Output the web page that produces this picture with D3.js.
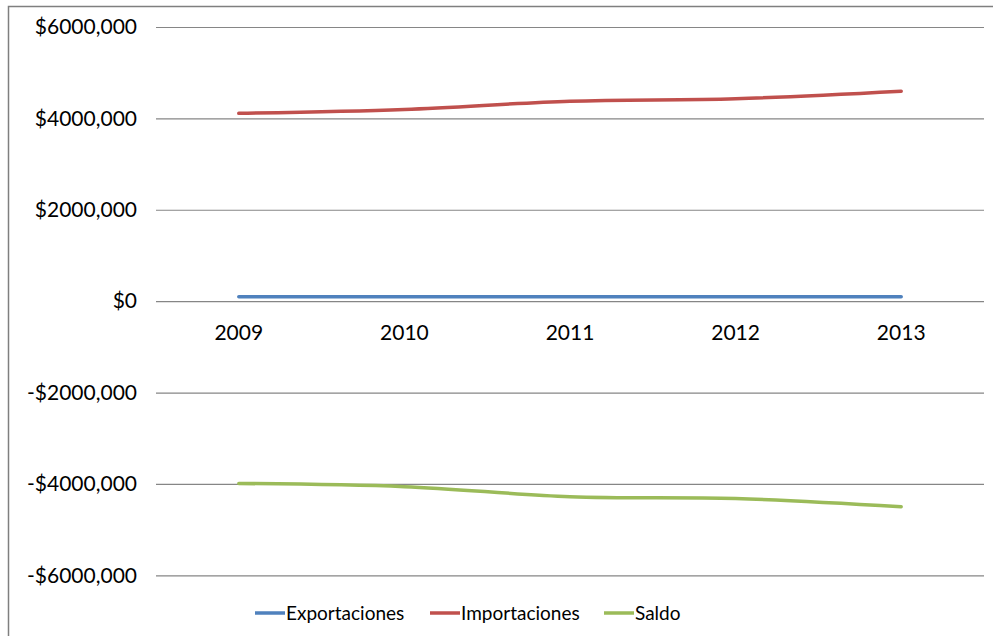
<!DOCTYPE html>
<html>
<head>
<meta charset="utf-8">
<script src="https://cdn.jsdelivr.net/npm/d3@7"></script>
<style>
  body { margin: 0; background: #fff; }
  svg { display: block; }
</style>
</head>
<body>
<svg width="993" height="636"></svg>
<script>
// data
var years = ["2009", "2010", "2011", "2012", "2013"];
var exportaciones = [95000, 95000, 95000, 95000, 95000];
var importaciones = [4110000, 4195000, 4375000, 4430000, 4595000];
var saldo = [-3990000, -4060000, -4280000, -4320000, -4500000];
var yTicks = [-6000000, -4000000, -2000000, 0, 2000000, 4000000, 6000000];

var series = [
    { name: "Exportaciones", values: exportaciones, color: "#4F81BD" },
    { name: "Importaciones", values: importaciones, color: "#C0504D" },
    { name: "Saldo", values: saldo, color: "#9BBB59" },
];

var svg = d3.select("svg"),
    plotLeft = 156, plotRight = 984, plotTop = 27, plotBottom = 575.3;

// chart area border (runs off the picture on the right and bottom)
svg.append("rect")
    .attr("x", 8.5).attr("y", 6.5)
    .attr("width", 1100).attr("height", 800)
    .attr("fill", "none")
    .attr("stroke", "#7f7f7f")
    .attr("stroke-width", 1.5);

var x = d3.scaleBand().domain(years).range([plotLeft, plotRight]);
var y = d3.scaleLinear().domain([-6000000, 6000000]).range([plotBottom, plotTop]);

function fmt(d) {
    if (d === 0) return "$0";
    return (d < 0 ? "-" : "") + "$" + (Math.abs(d) / 1000) + ",000";
}

// gridlines + y labels
var yAxis = d3.axisLeft(y)
    .tickValues(yTicks)
    .tickSize(-(plotRight - plotLeft))
    .tickPadding(19)
    .tickFormat(fmt);

var gy = svg.append("g")
    .attr("transform", "translate(" + plotLeft + ",0)")
    .call(yAxis);
gy.select(".domain").remove();
gy.selectAll(".tick line").attr("stroke", "#868686").attr("stroke-width", 1.2);
gy.selectAll(".tick text")
    .attr("fill", "#000")
    .style("font-family", "Lato")
    .style("font-size", "21px");

// category labels sit below the zero line
var xAxis = d3.axisBottom(x).tickSize(0).tickPadding(24);
var gx = svg.append("g")
    .attr("transform", "translate(0," + y(0) + ")")
    .call(xAxis);
gx.select(".domain").remove();
gx.selectAll(".tick text")
    .attr("fill", "#000")
    .style("font-family", "Lato")
    .style("font-size", "21px");

var line = d3.line()
    .x(function (d, i) { return x(years[i]) + x.bandwidth() / 2; })
    .y(function (d) { return y(d); })
    .curve(d3.curveCardinal.tension(0));

svg.selectAll(".series")
    .data(series)
    .enter().append("path")
    .attr("class", "series")
    .attr("d", function (s) { return line(s.values); })
    .attr("fill", "none")
    .attr("stroke", function (s) { return s.color; })
    .attr("stroke-width", 3.5)
    .attr("stroke-linecap", "round");

// legend
var legendX = [255, 430, 604];
var lg = svg.selectAll(".legend")
    .data(series)
    .enter().append("g")
    .attr("class", "legend")
    .attr("transform", function (s, i) { return "translate(" + legendX[i] + ",613)"; });
lg.append("line")
    .attr("x1", 0).attr("x2", 30)
    .attr("stroke", function (s) { return s.color; })
    .attr("stroke-width", 3.5);
lg.append("text")
    .attr("x", 31)
    .attr("dy", "0.35em")
    .style("font-family", "Lato")
    .style("font-size", "19px")
    .text(function (s) { return s.name; });
</script>
</body>
</html>
